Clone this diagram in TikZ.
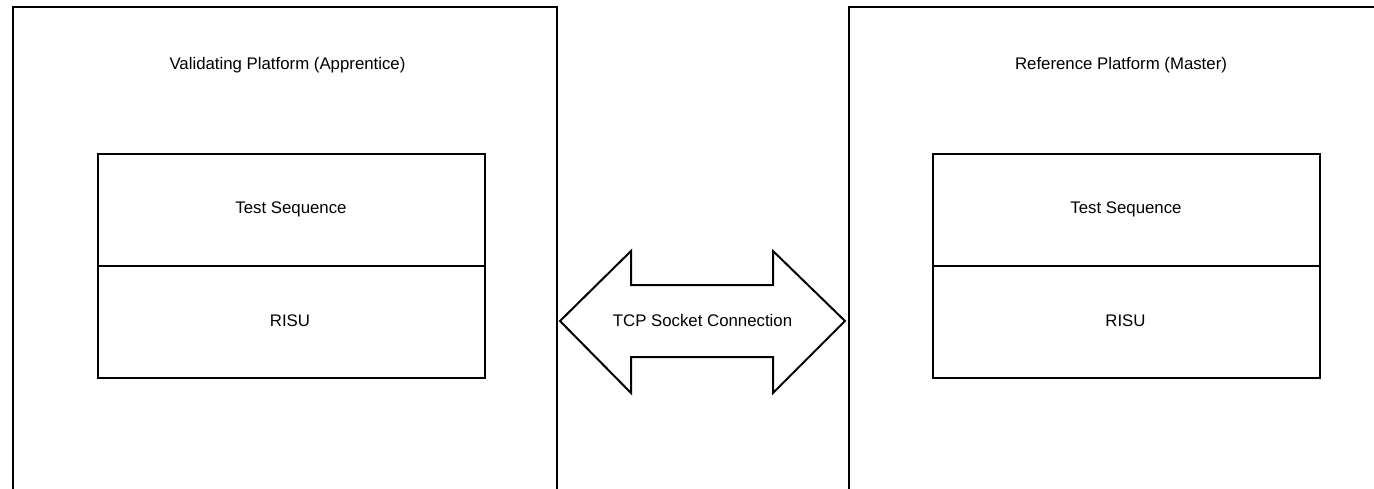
\documentclass[tikz,border=0pt]{standalone}
\usepackage{fontspec}
\setmainfont{Liberation Sans}
\begin{document}
\begin{tikzpicture}[x=1pt,y=-1pt,line width=2pt,
  boxstyle/.style={draw=black,inner sep=0pt,anchor=north west},
  lbl/.style={anchor=base,inner sep=0pt,font=\fontsize{16.8}{20}\selectfont},
  arrowshape/.style={draw=black,fill=white,line join=miter}]
\useasboundingbox (0,0) rectangle (1374,488);
\clip (0,0) rectangle (1374,488);
% big platforms
\node[boxstyle,minimum width=543.5pt,minimum height=600pt] (lplat) at (12,6) {};
\node[boxstyle,minimum width=600pt,minimum height=600pt] (rplat) at (847.5,6) {};
% inner boxes
\node[boxstyle,minimum width=387pt,minimum height=112.5pt] (lts) at (97,152.5) {};
\node[boxstyle,minimum width=387pt,minimum height=112pt] (lrisu) at (97,265) {};
\node[boxstyle,minimum width=387pt,minimum height=112.5pt] (rts) at (932,152.5) {};
\node[boxstyle,minimum width=387pt,minimum height=112pt] (rrisu) at (932,265) {};
% labels
\node[lbl] (ltitle) at (287.5,69) {Validating Platform (Apprentice)};
\node[lbl] (rtitle) at (1121,69) {Reference Platform (Master)};
\node[lbl] (ltstxt) at (291,213) {Test Sequence};
\node[lbl] (lrisutxt) at (290,326) {RISU};
\node[lbl] (rtstxt) at (1126,213) {Test Sequence};
\node[lbl] (rrisutxt) at (1125.5,326) {RISU};
% double arrow
\draw[arrowshape] (560,321) -- (631,251) -- (631,285) -- (773,285) -- (773,251)
  -- (845,321) -- (773,393) -- (773,357) -- (631,357) -- (631,393) -- cycle;
\node[lbl] (tcp) at (702.5,326) {TCP Socket Connection};
\end{tikzpicture}
\end{document}
